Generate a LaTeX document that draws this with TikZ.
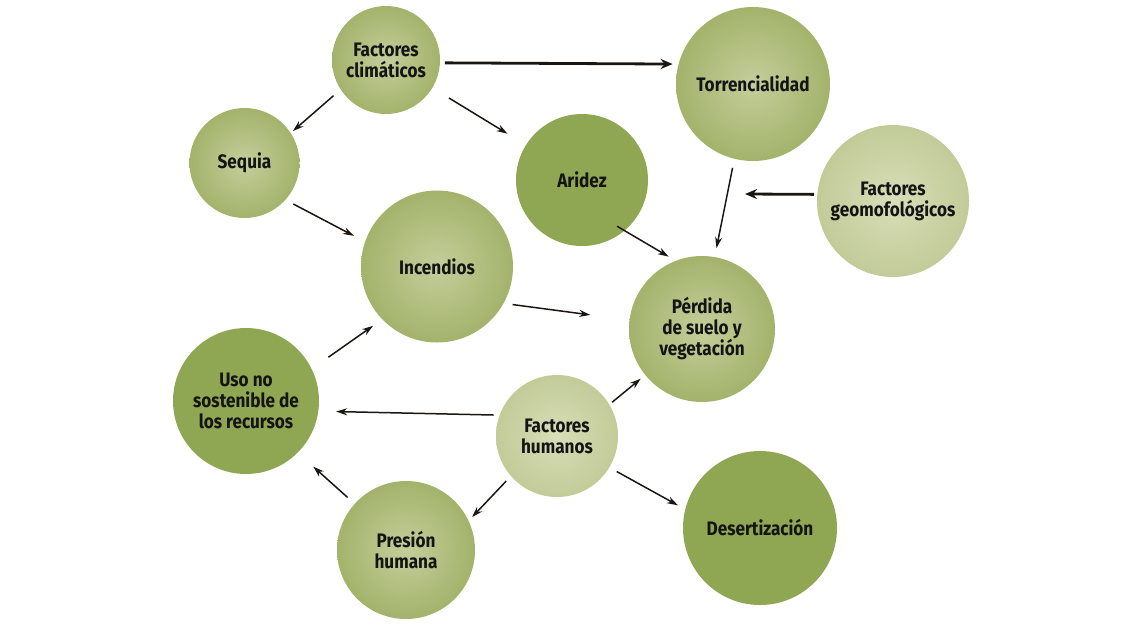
\documentclass[tikz,border=0pt]{standalone}
\usepackage{fontspec}
\newfontfamily\lab{Fira Sans}[FakeStretch=0.88]
\usetikzlibrary{arrows.meta}
\definecolor{midin}{HTML}{C4CE9B}
\definecolor{midout}{HTML}{A3B36B}
\definecolor{dark}{HTML}{8FA653}
\definecolor{lightin}{HTML}{D8DEB9}
\definecolor{lightout}{HTML}{C2CB98}
\definecolor{txt}{HTML}{141414}
\definecolor{ink}{HTML}{1C1612}
\begin{document}
\begin{tikzpicture}[x=1pt,y=-1pt,
  bub/.style={circle, minimum size=#1, inner sep=0pt, outer sep=0pt, align=center,
    font=\lab\bfseries\fontsize{19.5}{21}\selectfont, text=txt},
  mid/.style={bub=#1, inner color=midin, outer color=midout},
  drk/.style={bub=#1, fill=dark},
  lgt/.style={bub=#1, inner color=lightin, outer color=lightout},
  arr/.style={draw=ink, line width=1.5pt, -{Stealth[length=11pt,width=7pt]}},
  bigarr/.style={draw=ink, line width=2.8pt, -{Stealth[length=12pt,width=10pt]}}]
\useasboundingbox (0,0) rectangle (1140,625);
\node[mid=108] (fc) at (386,60) {Factores\\climáticos};
\node[mid=154] (torr) at (753,84) {Torrencialidad};
\node[mid=110] (seq) at (244.5,163) {Sequia};
\node[drk=132] (arid) at (582,180) {Aridez};
\node[lgt=152] (geo) at (893,201) {Factores\\geomofológicos};
\node[mid=152] (inc) at (437,266.5) {Incendios};
\node[mid=146] (perd) at (702,329) {Pérdida\\de suelo y\\vegetación};
\node[drk=146] (uso) at (246,401) {Uso no\\sostenible de\\los recursos};
\node[lgt=122] (hum) at (557,436) {Factores\\humanos};
\node[mid=138] (pres) at (406,550) {Presión\\humana};
\node[drk=154] (des) at (760,528) {Desertización};
\coordinate (join) at (745,194);

\draw[bigarr, shorten <=5pt, shorten >=6pt] (fc.357) -- (torr.165);
\draw[arr, shorten <=9.5pt, shorten >=3pt] (fc.213) -- (seq.33);
\draw[arr, shorten <=19.6pt, shorten >=21.7pt] (fc.329) -- (arid.148);
\draw[arr, shorten <=9pt, shorten >=12.7pt] (seq.318) -- (inc.161);
\draw[arr, shorten <=-8.5pt, shorten >=8.3pt] (arid.310) -- (perd.111);
\draw[arr, shorten <=9.3pt, shorten >=9.2pt] (torr.256.6) -- (perd.80.2);
\draw[bigarr, shorten <=3.3pt] (geo.175) -- (join);
\draw[arr, shorten <=9.2pt, shorten >=39.6pt] (inc.331.6) -- (perd.173.9);
\draw[arr, shorten <=20.5pt, shorten >=11.3pt] (uso.26) -- (inc.224.8);
\draw[arr, shorten <=6.1pt, shorten >=17.8pt] (hum.160) -- (uso.352.4);
\draw[arr, shorten <=3.7pt, shorten >=5.9pt] (hum.31.7) -- (perd.219.3);
\draw[arr, shorten <=7pt, shorten >=5.2pt] (hum.221.4) -- (pres.25.5);
\draw[arr, shorten <=8.5pt, shorten >=8.4pt] (hum.329.7) -- (des.166.5);
\draw[arr, shorten <=9.6pt, shorten >=21pt] (pres.138.6) -- (uso.315.4);
\end{tikzpicture}
\end{document}
